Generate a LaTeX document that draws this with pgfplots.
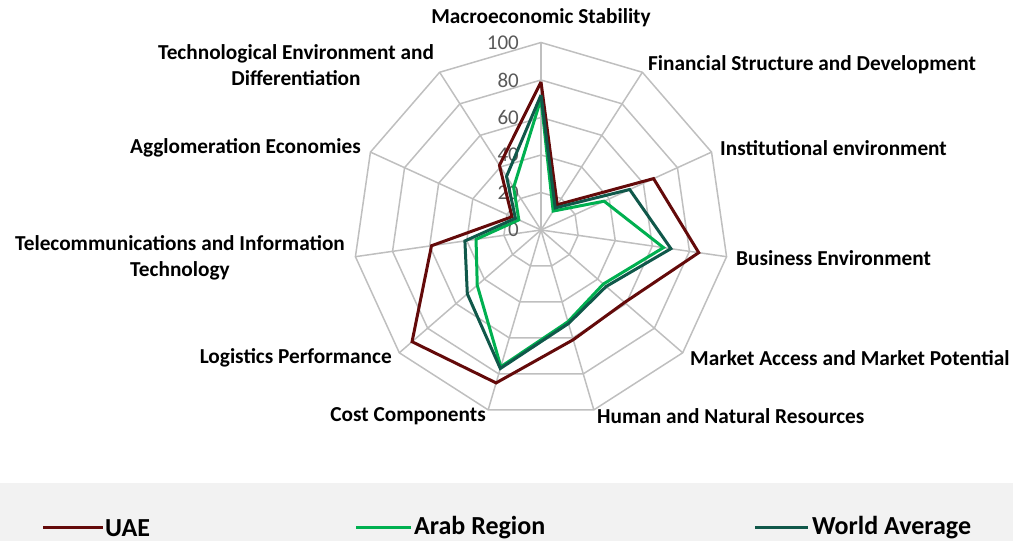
\documentclass[border=0pt]{standalone}
\usepackage{fontspec}
\setmainfont{Carlito}
\usepackage{pgfplots}
\pgfplotsset{compat=1.18}
\usepackage{pgfplotstable}
\definecolor{uae}{RGB}{100,10,10}
\definecolor{arab}{RGB}{0,176,80}
\definecolor{world}{RGB}{16,88,74}
\definecolor{gridc}{RGB}{191,191,191}
\definecolor{tickc}{RGB}{89,89,89}
\definecolor{band}{RGB}{242,242,242}

\pgfplotstableread{
angle UAE Arab World
90 79 70 72
57.273 16 12 14
24.545 66 37 52
-8.182 85 66 70
-40.909 59 44 46
-73.636 61 51 52
-106.364 85 76 77
-139.091 91 45 52
-171.818 59 35 41
155.455 17 13 15
122.727 41 27 34
90 79 70 72
}\radardata

\begin{document}
\begin{tikzpicture}[x=1pt,y=1pt]
\useasboundingbox (0,0) rectangle (1013,541);
\fill[band] (0,0) rectangle (1013,58);
\begin{scope}[shift={(541,311)}]
 \foreach \r in {37.5,75,112.5,150,187.5} {
   \draw[gridc, line width=1.5pt] (90:\r pt) \foreach \k in {1,...,10} { -- ({90-\k*360/11}:\r pt) } -- cycle;
 }
 \foreach \k in {0,...,10} \draw[gridc, line width=1.5pt] (0,0) -- ({90-\k*360/11}:187.5pt);
\end{scope}
\foreach \v in {0,20,40,60,80,100} {
  \node[anchor=east, text=tickc, font=\fontsize{21}{24}\selectfont, inner sep=0pt] at (519pt,{311+\v*1.875}) {\v};
}
\begin{axis}[at={(541pt,311pt)}, anchor=center, x=1.875pt, y=1.875pt, hide axis,
  xmin=-100, xmax=100, ymin=-100, ymax=100, clip=false]
\addplot[uae, line width=3pt, no markers] table[x=angle, y=UAE, data cs=polar] {\radardata};
\addplot[arab, line width=3pt, no markers] table[x=angle, y=Arab, data cs=polar] {\radardata};
\addplot[world, line width=3pt, no markers] table[x=angle, y=World, data cs=polar] {\radardata};
\end{axis}
\tikzset{lab/.style={font=\bfseries\fontsize{21.3}{26}\selectfont, inner sep=0pt, align=center}}
\node[lab] at (541,523) {Macroeconomic Stability};
\node[lab, anchor=west] at (648,476) {Financial Structure and Development};
\node[lab, anchor=west] at (720,393) {Institutional environment};
\node[lab, anchor=west] at (736,283) {Business Environment};
\node[lab, anchor=west] at (690,183) {Market Access and Market Potential};
\node[lab, anchor=west] at (597,125) {Human and Natural Resources};
\node[lab, anchor=east] at (486,125) {Cost Components};
\node[lab, anchor=east] at (392,183) {Logistics Performance};
\node[lab] at (180,283) {Telecommunications and Information\\Technology};
\node[lab, anchor=east] at (361,393) {Agglomeration Economies};
\node[lab] at (296,476) {Technological Environment and\\Differentiation};
% legend
\tikzset{leg/.style={font=\bfseries\fontsize{26}{30}\selectfont, inner sep=0pt, anchor=west}}
\draw[uae, line width=3pt] (43,13) -- (103,13);
\node[leg] at (105,13) {UAE};
\draw[arab, line width=3pt] (356,13) -- (411,13);
\node[leg] at (414,13) {Arab Region};
\draw[world, line width=3pt] (755,13) -- (808,13);
\node[leg] at (812,13) {World Average};
\end{tikzpicture}
\end{document}
